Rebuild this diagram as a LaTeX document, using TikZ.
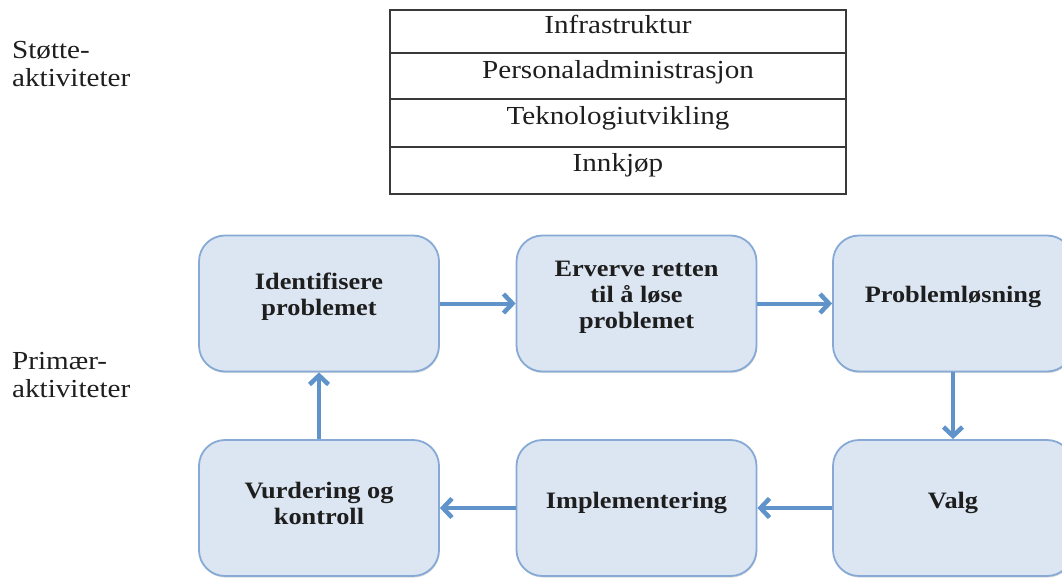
\documentclass[tikz,border=0pt]{standalone}
\usepackage{fontspec}
\setmainfont{Liberation Serif}[FakeStretch=1.12]
\usetikzlibrary{arrows.meta,shadows}
\definecolor{boxfill}{HTML}{DCE6F2}
\definecolor{boxline}{HTML}{86AAD5}
\definecolor{arrowblue}{HTML}{5F93CA}
\definecolor{ink}{HTML}{1E1E1E}
\definecolor{gridline}{HTML}{3A3A3A}

\begin{document}
\begin{tikzpicture}[x=1pt,y=1pt,
  stepbox/.style={draw=boxline, line width=1.8pt, fill=boxfill,
    rounded corners=26pt, minimum width=240pt, minimum height=136pt, inner sep=0pt,
    drop shadow={shadow xshift=0.6pt, shadow yshift=-1.6pt, opacity=0.28}},
  steptext/.style={font=\fontsize{23.5}{26}\selectfont\bfseries, text=ink,
    align=center, inner sep=0pt},
  flow/.style={draw=arrowblue, line width=4pt,
    -{Straight Barb[length=9pt,width=19pt,line width=4.5pt]}},
  cell/.style={font=\fontsize{26}{30}\selectfont, text=ink, anchor=base, inner sep=0pt},
  side/.style={font=\fontsize{26}{28}\selectfont, text=ink, align=left,
    anchor=north west, inner sep=0pt}
]
\clip (0,0) rectangle (1062,579);

% support activities table
\draw[gridline, line width=1.6pt] (390,385) rectangle (846,569);
\foreach \yy in {526,480,432}
  \draw[gridline, line width=1.6pt] (390,\yy) -- (846,\yy);
\node[cell] (infra) at (618,545) {Infrastruktur};
\node[cell] (hr)    at (618,500) {Personaladministrasjon};
\node[cell] (tech)  at (618,454) {Teknologiutvikling};
\node[cell] (buy)   at (618,407) {Innkjøp};

% row labels
\node[side] (support) at (12,538) {Støtte-\\aktiviteter};
\node[side] (primary) at (12,227) {Primær-\\aktiviteter};

% primary activity cycle
\node[stepbox] (b1) at (319,275.5) {};
\node[stepbox] (b2) at (636.5,275.5) {};
\node[stepbox] (b3) at (953,275.5) {};
\node[stepbox] (b4) at (953,71) {};
\node[stepbox] (b5) at (636.5,71) {};
\node[stepbox] (b6) at (319,71) {};

\node[steptext] (t1) at (319,282) {Identifisere\\problemet};
\node[steptext] (t2) at (636.5,282) {Erverve retten\\til å løse\\problemet};
\node[steptext] (t3) at (953,282) {Problemløsning};
\node[steptext] (t4) at (953,76) {Valg};
\node[steptext] (t5) at (636.5,76) {Implementering};
\node[steptext] (t6) at (319,76) {Vurdering og\\kontroll};

\draw[flow] (b1.east) -- (b2.west);
\draw[flow] (b2.east) -- (b3.west);
\draw[flow] (b3.south) -- (b4.north);
\draw[flow] (b4.west) -- (b5.east);
\draw[flow] (b5.west) -- (b6.east);
\draw[flow] (b6.north) -- (b1.south);
\end{tikzpicture}
\end{document}
